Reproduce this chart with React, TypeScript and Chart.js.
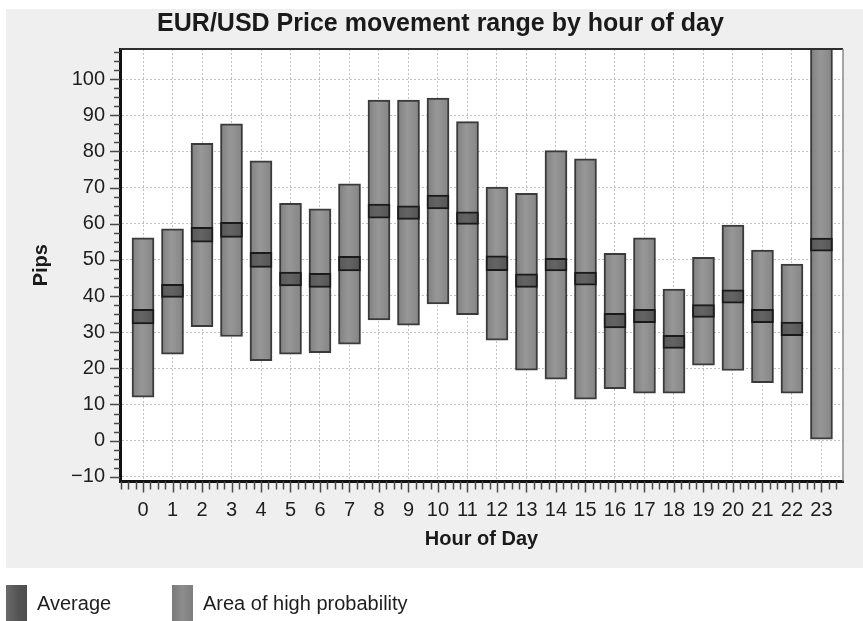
import React, { useEffect, useRef } from "react";
import { Chart, registerables } from "chart.js";

Chart.register(...registerables);

const chartTitle = "EUR/USD Price movement range by hour of day";
const xTitle = "Hour of Day";
const yTitle = "Pips";
const seriesLabels = ["Average", "Area of high probability"];

const hours = [0, 1, 2, 3, 4, 5, 6, 7, 8, 9, 10, 11, 12, 13, 14, 15, 16, 17, 18, 19, 20, 21, 22, 23];
const yTicks = [-10, 0, 10, 20, 30, 40, 50, 60, 70, 80, 90, 100];

// range of high probability (bottom / top of each bar)
const rangeLow = [12.0, 23.9, 31.5, 28.8, 22.1, 23.9, 24.3, 26.7, 33.4, 31.9, 37.8, 34.8, 27.8, 19.5, 17.0, 11.5, 14.4, 13.1, 13.1, 20.9, 19.4, 16.0, 13.1, 0.4];
const rangeHigh = [56.1, 58.6, 82.2, 87.6, 77.4, 65.6, 64.1, 71.0, 94.2, 94.2, 94.7, 88.2, 70.1, 68.4, 80.2, 77.9, 51.8, 56.1, 41.9, 50.7, 59.6, 52.7, 48.8, 115];

// average band
const avgLow = [32.3, 39.6, 54.9, 56.2, 47.9, 42.8, 42.4, 46.9, 61.5, 61.2, 64.1, 59.8, 47.0, 42.4, 46.9, 43.0, 31.2, 32.6, 25.5, 34.1, 38.0, 32.6, 29.0, 52.4];
const avgHigh = [36.3, 43.2, 59.0, 60.4, 52.1, 46.6, 46.3, 51.0, 65.4, 64.9, 67.9, 63.3, 51.1, 46.1, 50.4, 46.6, 35.2, 36.3, 29.1, 37.6, 41.7, 36.3, 32.8, 56.0];

const FONT = "'Liberation Sans', Arial, Helvetica, sans-serif";
const BAR_W = 22;

const bgPlugin = {
  id: "bgPlugin",
  beforeDraw(chart: any) {
    const { ctx, chartArea: a } = chart;
    ctx.save();
    ctx.fillStyle = "#efefef";
    ctx.fillRect(6, 9, chart.width - 6, 559);
    ctx.fillStyle = "#ffffff";
    ctx.fillRect(a.left, a.top, a.right - a.left, a.bottom - a.top);
    ctx.restore();
  },
};

const framePlugin = {
  id: "framePlugin",
  afterDraw(chart: any) {
    const { ctx, chartArea: a, scales } = chart;
    const xs = scales.x;
    const ys = scales.y;
    ctx.save();
    ctx.strokeStyle = "#4a4a4a";
    ctx.lineWidth = 1.5;
    const yStart = Math.ceil(ys.min / 2.5);
    const yEnd = Math.floor(ys.max / 2.5);
    for (let k = yStart; k <= yEnd; k++) {
      const py = Math.round(ys.getPixelForValue(k * 2.5)) + 0.5;
      const major = k % 4 === 0;
      ctx.beginPath();
      ctx.moveTo(a.left - (major ? 10 : 6), py);
      ctx.lineTo(a.left, py);
      ctx.stroke();
    }
    const xStart = Math.ceil(xs.min / 0.25);
    const xEnd = Math.floor(xs.max / 0.25);
    for (let k = xStart; k <= xEnd; k++) {
      const px = Math.round(xs.getPixelForValue(k * 0.25)) + 0.5;
      const major = k % 4 === 0;
      ctx.beginPath();
      ctx.moveTo(px, a.bottom);
      ctx.lineTo(px, a.bottom + (major ? 11 : 8));
      ctx.stroke();
    }
    ctx.strokeStyle = "#2e2e2e";
    ctx.lineWidth = 2;
    ctx.beginPath();
    ctx.moveTo(a.left, a.top);
    ctx.lineTo(a.right, a.top);
    ctx.stroke();
    ctx.strokeStyle = "#8a8a8a";
    ctx.lineWidth = 1.5;
    ctx.beginPath();
    ctx.moveTo(a.right, a.top);
    ctx.lineTo(a.right, a.bottom);
    ctx.stroke();
    ctx.restore();
  },
};

function barGradient(c: any, stops: string[]) {
  const chart = c.chart;
  const xs = chart.scales && chart.scales.x;
  if (!xs || !c.raw || xs.getPixelForValue === undefined) return stops[1];
  const px = xs.getPixelForValue(c.raw.x);
  if (!isFinite(px)) return stops[1];
  const g = chart.ctx.createLinearGradient(px - BAR_W / 2, 0, px + BAR_W / 2, 0);
  g.addColorStop(0, stops[0]);
  g.addColorStop(0.45, stops[1]);
  g.addColorStop(1, stops[2]);
  return g;
}

function ChartCanvas() {
  const ref = useRef<HTMLCanvasElement | null>(null);

  useEffect(() => {
    if (!ref.current) return;
    Chart.defaults.font.family = FONT;
    Chart.defaults.color = "#1e1e1e";

    const chart = new Chart(ref.current, {
      type: "bar",
      data: {
        datasets: [
          {
            label: seriesLabels[0],
            data: hours.map((h, i) => ({ x: h, y: [avgLow[i], avgHigh[i]] })) as any,
            backgroundColor: (c: any) => barGradient(c, ["#585858", "#646464", "#545454"]),
            borderColor: "#1a1a1a",
            borderWidth: 2,
            borderSkipped: false,
            grouped: false,
            barThickness: BAR_W,
          },
          {
            label: seriesLabels[1],
            data: hours.map((h, i) => ({ x: h, y: [rangeLow[i], rangeHigh[i]] })) as any,
            backgroundColor: (c: any) => barGradient(c, ["#808080", "#979797", "#858585"]),
            borderColor: "#3a3a3a",
            borderWidth: 2,
            borderSkipped: false,
            grouped: false,
            barThickness: BAR_W,
          },
        ],
      },
      options: {
        responsive: false,
        animation: false,
        devicePixelRatio: 1,
        layout: { padding: { left: 38, right: 20, top: 9, bottom: 70 } },
        plugins: {
          legend: { display: false },
          tooltip: { enabled: false },
          title: {
            display: true,
            text: chartTitle,
            color: "#1a1a1a",
            font: { size: 25, weight: "bold", family: FONT },
            padding: { top: 0, bottom: 10 },
          },
        },
        scales: {
          x: {
            type: "linear",
            offset: false,
            min: -0.78,
            max: 23.73,
            afterBuildTicks: (scale: any) => {
              scale.ticks = hours.map((v) => ({ value: v }));
            },
            afterFit: (scale: any) => {
              scale.height = 69.5;
            },
            ticks: {
              autoSkip: false,
              maxRotation: 0,
              padding: 16.5,
              font: { size: 20 },
              color: "#1e1e1e",
              callback: (v: any) => String(v),
            },
            grid: {
              color: "#c0c0c0",
              lineWidth: 1,
              drawTicks: false,
              offset: false,
            },
            border: { display: true, color: "#111111", width: 3, dash: [2, 2] },
            title: {
              display: true,
              text: xTitle,
              font: { size: 20, weight: "bold" },
              color: "#1a1a1a",
              padding: { top: 0, bottom: 0 },
            },
          },
          y: {
            type: "linear",
            min: -11.3,
            max: 108.3,
            afterBuildTicks: (scale: any) => {
              scale.ticks = yTicks.map((v) => ({ value: v }));
            },
            afterFit: (scale: any) => {
              scale.width = 82;
            },
            ticks: {
              padding: 15,
              font: { size: 20 },
              color: "#1e1e1e",
              callback: (v: any) => (Number(v) < 0 ? "\u2212" + Math.abs(Number(v)) : String(v)),
            },
            grid: {
              color: "#c0c0c0",
              lineWidth: 1,
              drawTicks: false,
            },
            border: { display: true, color: "#111111", width: 3, dash: [2, 2] },
            title: {
              display: true,
              text: yTitle,
              font: { size: 20, weight: "bold" },
              color: "#1a1a1a",
              padding: { top: -8.5, bottom: 0 },
            },
          },
        },
      },
      plugins: [bgPlugin, framePlugin],
    } as any);

    return () => {
      chart.destroy();
    };
  }, []);

  return <canvas ref={ref} width={863} height={621} style={{ display: "block" }} />;
}

export default function App() {
  const legendColors = [
    "linear-gradient(90deg, #6a6a6a, #545454 60%, #4e4e4e)",
    "linear-gradient(90deg, #7a7a7a, #8c8c8c 50%, #7e7e7e)",
  ];
  const legendBoxLeft = [6, 172];
  return (
    <div
      style={{
        position: "absolute",
        left: 0,
        top: 0,
        width: 863,
        height: 621,
        overflow: "hidden",
        background: "#ffffff",
      }}
    >
      <ChartCanvas />
      {seriesLabels.map((label, i) => (
        <div key={label}>
          <div
            style={{
              position: "absolute",
              left: legendBoxLeft[i],
              top: 585,
              width: 21,
              height: 36,
              background: legendColors[i],
            }}
          />
          <span
            style={{
              position: "absolute",
              left: legendBoxLeft[i] + 31,
              top: 585,
              height: 36,
              lineHeight: "36px",
              fontFamily: FONT,
              fontSize: 20,
              color: "#1e1e1e",
              whiteSpace: "nowrap",
            }}
          >
            {label}
          </span>
        </div>
      ))}
    </div>
  );
}
